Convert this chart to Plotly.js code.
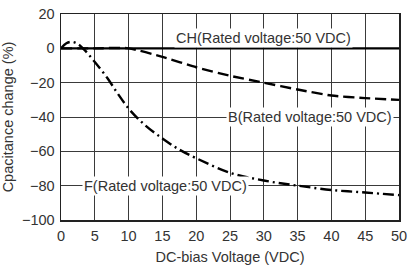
<!DOCTYPE html>
<html><head><meta charset="utf-8">
<script src="https://cdn.plot.ly/plotly-3.0.1.min.js"></script>
<style>body{margin:0;background:#fff}#c{width:409px;height:269px}</style>
</head><body><div id="c"></div>
<script>
const chX = [0, 50];
const chY = [0, 0];
const bX = [0, 5, 10, 15, 20, 25, 30, 35, 40, 45, 50];
const bY = [0, 0, 0, -5, -11, -16, -20, -24, -27.5, -29, -30];
const fX = [0, 0.8, 1.6, 2.5, 3.5, 5, 6.8, 8.5, 10.2, 12.5, 15, 17.5, 20, 25, 30, 35, 40, 45, 50];
const fY = [0, 3, 3.8, 2.5, -1, -8, -17, -27, -36, -45, -52.5, -59, -64, -72.5, -77, -80, -82.5, -84, -85.5];
const labels = ["CH(Rated voltage:50 VDC)", "B(Rated voltage:50 VDC)", "F(Rated voltage:50 VDC)"];
const labelX = [30, 36.8, 15.5];
const labelY = [6, -40, -80];

const font = {family: "Liberation Sans, Arial, sans-serif", size: 14.5, color: "#333"};
const traces = [
  {x: chX, y: chY, mode: "lines", line: {color: "#000", width: 2.4}},
  {x: bX, y: bY, mode: "lines", line: {color: "#000", width: 2.4, dash: "11px,5px", shape: "spline", smoothing: 0.6}},
  {x: fX, y: fY, mode: "lines", line: {color: "#000", width: 2.4, dash: "11px,4px,2px,4px", shape: "spline"}}
];
const annotations = labels.map((t, i) => ({
  x: labelX[i], y: labelY[i], xref: "x", yref: "y", text: t, showarrow: false,
  font: font, bgcolor: "#fff", borderpad: 1
}));
Plotly.newPlot("c", traces, {
  width: 409, height: 269,
  margin: {l: 61, r: 10, t: 14, b: 49},
  paper_bgcolor: "#fff", plot_bgcolor: "#fff",
  showlegend: false,
  font: font,
  xaxis: {range: [0, 50], dtick: 5, tick0: 0, showgrid: true, gridcolor: "#3a3a3a", gridwidth: 1,
    zeroline: false, showline: true, linecolor: "#222", linewidth: 1.5, mirror: true, ticks: "",
    ticklabelstandoff: 2,
    tickfont: font, title: {text: "DC-bias Voltage (VDC)", font: font, standoff: 9}},
  yaxis: {range: [-100, 20], dtick: 20, tick0: 0, showgrid: true, gridcolor: "#3a3a3a", gridwidth: 1,
    zeroline: false, showline: true, linecolor: "#222", linewidth: 1.5, mirror: true, ticks: "",
    ticklabelstandoff: 2,
    tickfont: font, title: {text: "Cpacitance change (%)", font: font, standoff: 6}},
  annotations: annotations
}, {staticPlot: true});
</script></body></html>
